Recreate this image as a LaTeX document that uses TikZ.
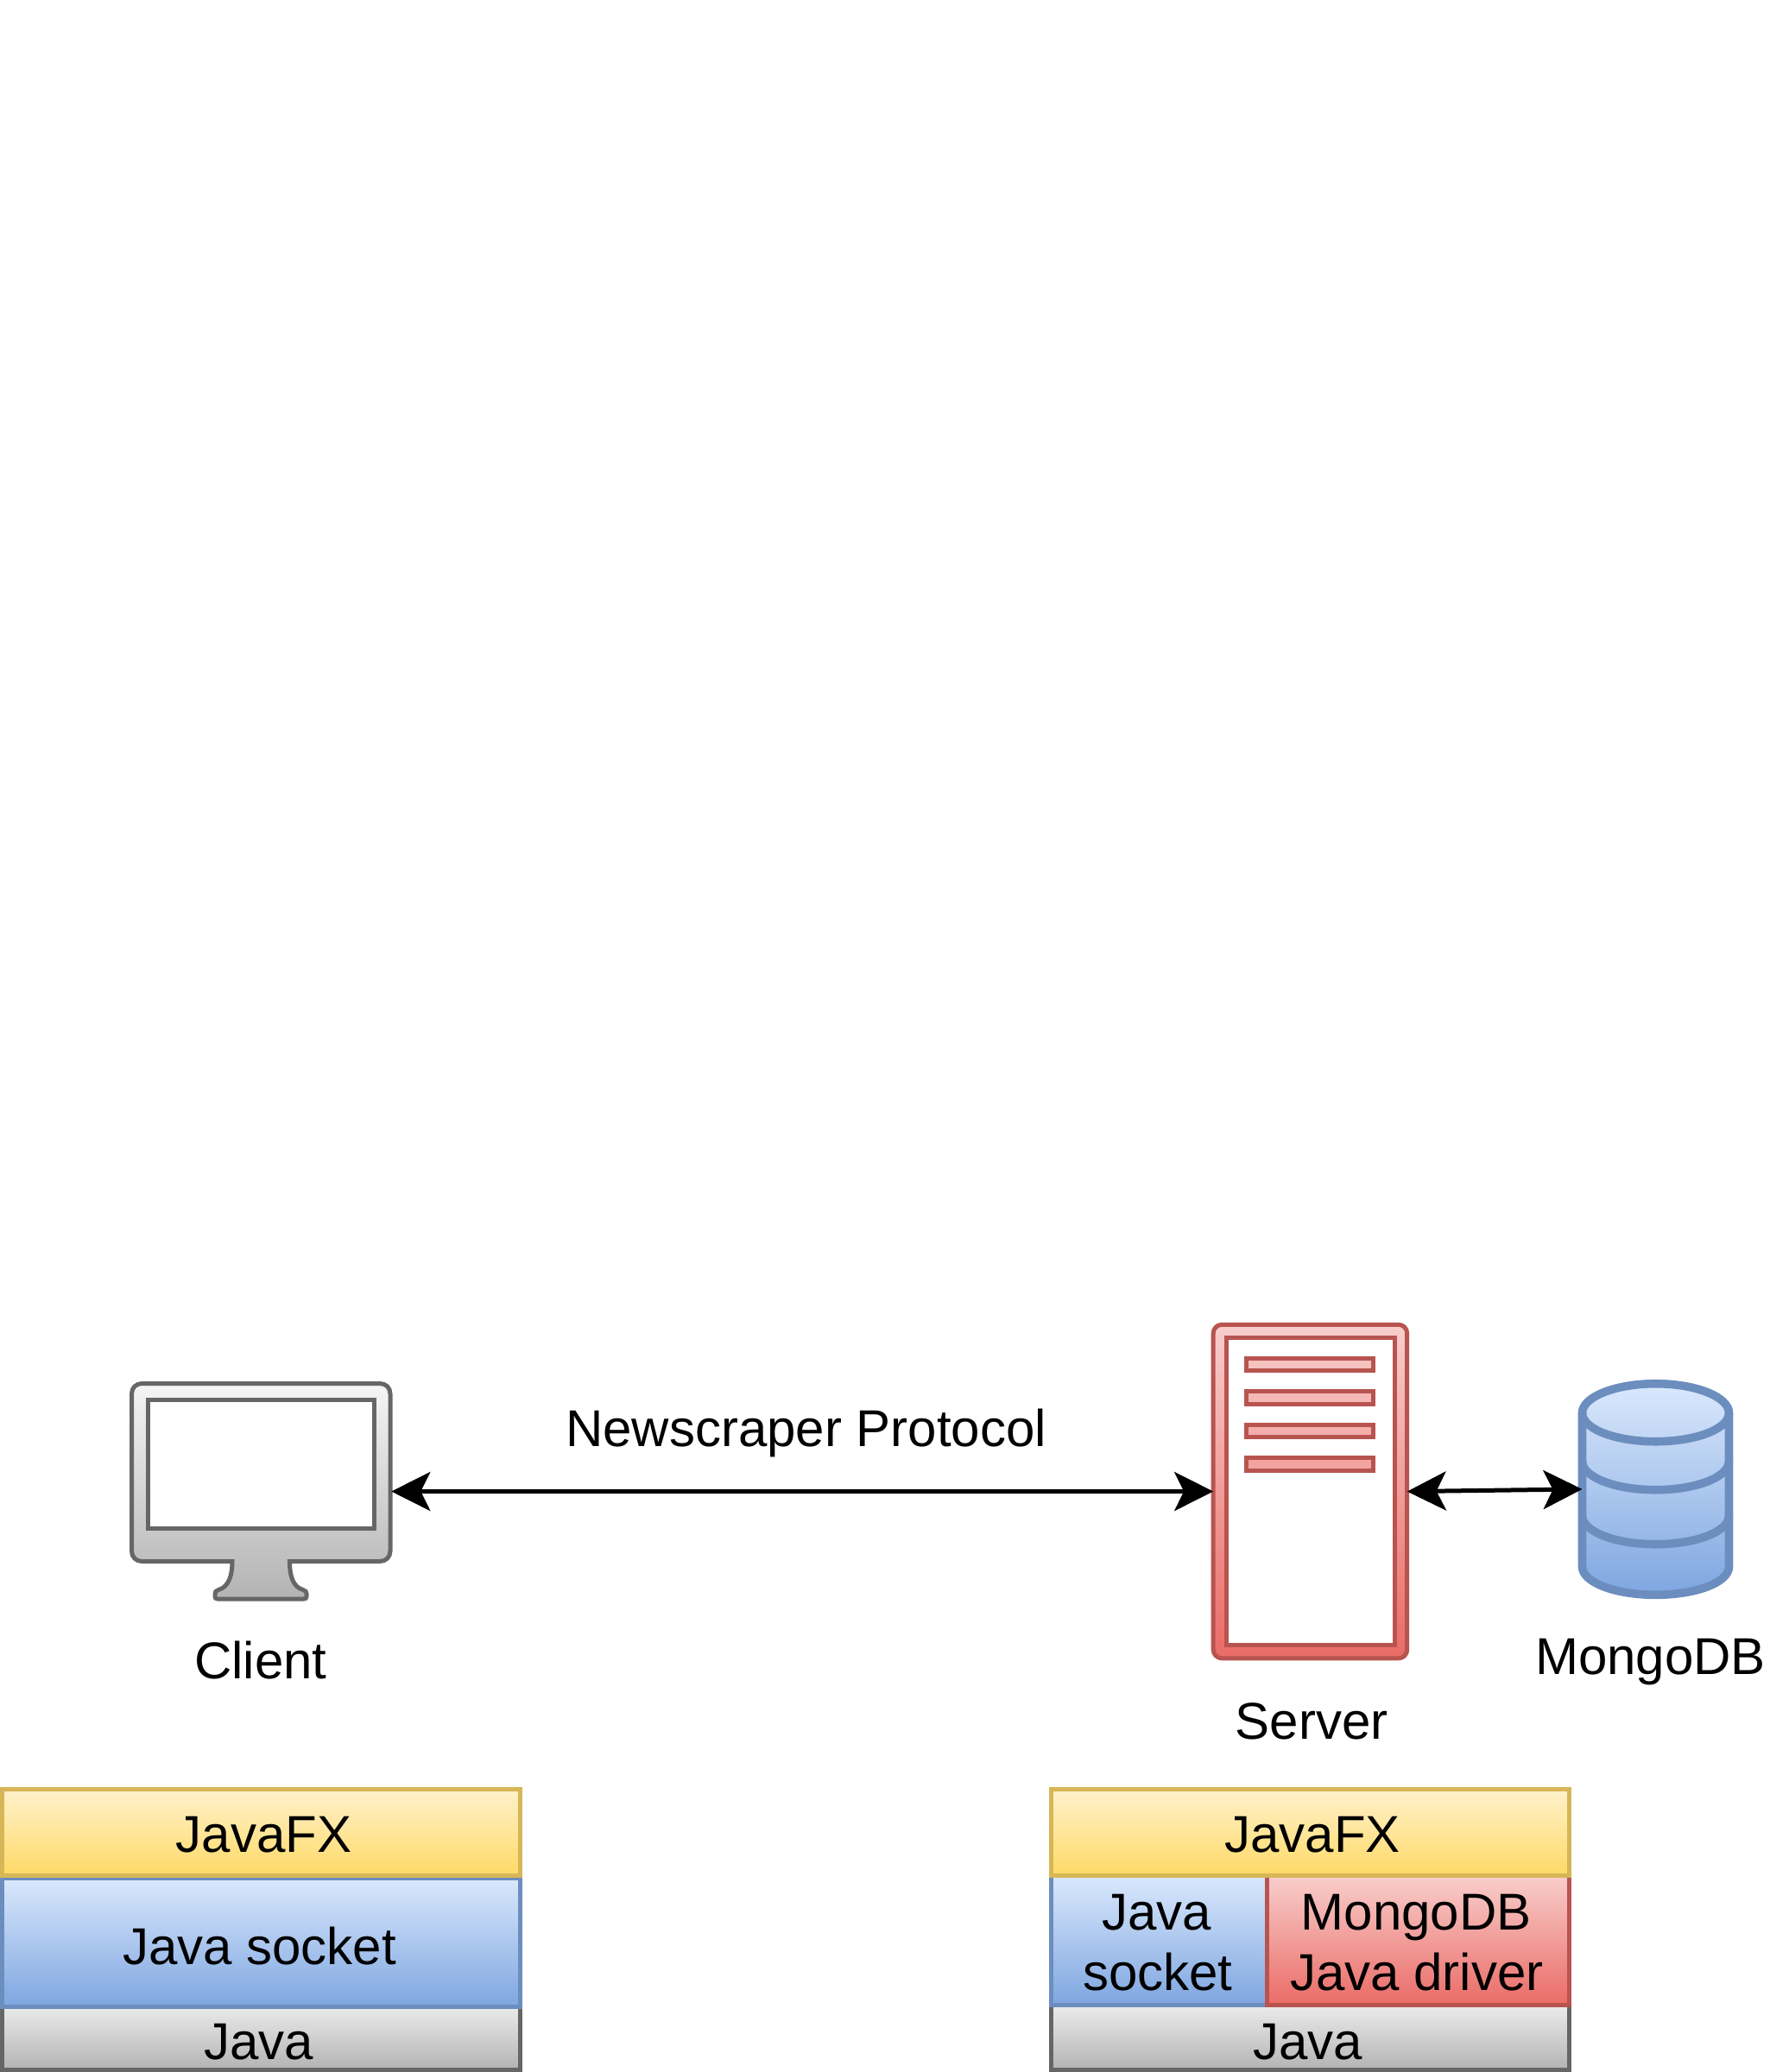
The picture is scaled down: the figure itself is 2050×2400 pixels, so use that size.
\documentclass[tikz,border=0pt]{standalone}
\usepackage{fontspec}
\setmainfont{Liberation Sans}
\usetikzlibrary{arrows.meta}
\definecolor{yelA}{HTML}{FFF2CC}\definecolor{yelB}{HTML}{FFD966}\definecolor{yelS}{HTML}{D6B656}
\definecolor{bluA}{HTML}{DAE8FC}\definecolor{bluB}{HTML}{7EA6E0}\definecolor{bluS}{HTML}{6C8EBF}
\definecolor{redA}{HTML}{F8CECC}\definecolor{redB}{HTML}{EA6B66}\definecolor{redS}{HTML}{B85450}
\definecolor{gryA}{HTML}{F5F5F5}\definecolor{gryB}{HTML}{B3B3B3}\definecolor{gryS}{HTML}{666666}
\tikzset{
  yellayer/.style={draw=yelS,top color=yelA,bottom color=yelB},
  blulayer/.style={draw=bluS,top color=bluA,bottom color=bluB},
  redlayer/.style={draw=redS,top color=redA,bottom color=redB},
  grylayer/.style={draw=gryS,top color=gryA,bottom color=gryB},
  stroke5/.style={line width=2.5pt},
  bbox/.style={inner sep=0pt,outer sep=0pt,draw=none},
  lbl/.style={inner sep=0pt,outer sep=0pt,anchor=base,font=\fontsize{30}{35}\selectfont,align=center},
  link/.style={line width=2.5pt,black,{Stealth[length=22.5pt,width=22.5pt,inset=5.5pt]}-{Stealth[length=22.5pt,width=22.5pt,inset=5.5pt]}},
}
% box given by its stroke centre lines, in reference pixels
\newcommand{\pxbox}[6]{%
  \pgfmathsetmacro{\pxw}{(#5-#3)*0.5}\pgfmathsetmacro{\pxh}{(#6-#4)*0.5}%
  \node[#1,stroke5,inner sep=0pt,outer sep=0pt,minimum width=\pxw pt,minimum height=\pxh pt] (#2) at ({(#3+#5)/2},{(#4+#6)/2}) {};}
\begin{document}
\begin{tikzpicture}[x=0.5pt,y=-0.5pt]
\useasboundingbox (0,0) rectangle (2050,2400);
\fill[white] (0,0) rectangle (2050,2400);

% client icon
\pxbox{bbox}{monitor}{150}{1601}{453.3}{1854}
\shade[draw=gryS,stroke5,top color=gryA,bottom color=gryB]
  (164.5,1602.5) -- (440,1602.5) .. controls (447,1602.5) and (452,1607.5) .. (452,1614.5)
  -- (452,1796.5) .. controls (452,1803.5) and (447,1808.5) .. (440,1808.5)
  -- (335.5,1808.5) .. controls (335.5,1825) and (339,1838) .. (351,1841.5)
  .. controls (354,1842.5) and (355,1844) .. (355,1846) -- (355,1849) .. controls (355,1851) and (354,1852) .. (352,1852)
  -- (252,1852) .. controls (250,1852) and (249,1851) .. (249,1849) -- (249,1846)
  .. controls (249,1844) and (250,1842.5) .. (253,1841.5)
  .. controls (265,1838) and (269,1825) .. (269,1808.5)
  -- (164.5,1808.5) .. controls (157.5,1808.5) and (152.5,1803.5) .. (152.5,1796.5)
  -- (152.5,1614.5) .. controls (152.5,1607.5) and (157.5,1602.5) .. (164.5,1602.5) -- cycle;
\draw[gryS,stroke5,fill=white] (171.5,1621.5) rectangle (433,1770);

% server icon
\pxbox{bbox}{server}{1405.2}{1534.3}{1629.7}{1920.8}
\shade[draw=redS,stroke5,rounded corners=5pt,top color=redA,bottom color=redB] (1405.2,1534.3) rectangle (1629.7,1920.8);
\draw[redS,stroke5,fill=white] (1420,1549.6) rectangle (1615,1905.8);
\draw[redS,stroke5,fill=redB!12!redA] (1443,1573) rectangle (1590.3,1587.3);
\draw[redS,stroke5,fill=redB!22!redA] (1443,1611.3) rectangle (1590.3,1626);
\draw[redS,stroke5,fill=redB!32!redA] (1443,1650) rectangle (1590.3,1664.7);
\draw[redS,stroke5,fill=redB!42!redA] (1443,1688.7) rectangle (1590.3,1703.3);

% database icon
\pxbox{bbox}{db}{1832.5}{1602.5}{2002.5}{1847.3}
\shade[draw=bluS,line width=4.8pt,top color=bluA,bottom color=bluB]
  (1832.5,1636.7) .. controls (1832.5,1618) and (1870.75,1602.7) .. (1917.5,1602.7)
  .. controls (1964.25,1602.7) and (2002.5,1618) .. (2002.5,1636.7)
  -- (2002.5,1814.5) .. controls (2002.5,1833) and (1964.25,1847.3) .. (1917.5,1847.3)
  .. controls (1870.75,1847.3) and (1832.5,1833) .. (1832.5,1814.5) -- cycle;
\draw[bluS,line width=4.8pt]
  (1832.5,1636.7) .. controls (1832.5,1655) and (1870.75,1669.7) .. (1917.5,1669.7) .. controls (1964.25,1669.7) and (2002.5,1655) .. (2002.5,1636.7)
  (1832.5,1692.5) .. controls (1832.5,1711) and (1870.75,1725.7) .. (1917.5,1725.7) .. controls (1964.25,1725.7) and (2002.5,1711) .. (2002.5,1692.5)
  (1832.5,1755.5) .. controls (1832.5,1774) and (1870.75,1788.7) .. (1917.5,1788.7) .. controls (1964.25,1788.7) and (2002.5,1774) .. (2002.5,1755.5);

% connectors
\draw[link] (monitor.east) -- (monitor.east -| server.west);
\draw[link] (server.east) -- (db.west);

% left stack
\pxbox{grylayer}{cjava}{2.5}{2310}{602.5}{2397.5}
\pxbox{blulayer}{csocket}{2.5}{2175}{602.5}{2324.8}
\pxbox{yellayer}{cfx}{2.5}{2072.5}{602.5}{2172.5}
% right stack
\pxbox{grylayer}{sjava}{1217.5}{2310}{1817.5}{2397.5}
\pxbox{blulayer}{ssocket}{1217.5}{2172.5}{1467.5}{2322.5}
\pxbox{redlayer}{sdriver}{1467.5}{2172.5}{1817.5}{2322.5}
\pxbox{yellayer}{sfx}{1217.5}{2072.5}{1817.5}{2172.5}

% labels
\node[lbl] (lproto) at (933.7,1675) {Newscraper Protocol};
\node[lbl] (lclient) at (302,1944) {Client};
\node[lbl] (lserver) at (1519,2014.3) {Server};
\node[lbl] (lmongo) at (1911.5,1939) {MongoDB};
\node[lbl] (tcfx) at (305.5,2145) {JavaFX};
\node[lbl] (tcsock) at (300.5,2275) {Java socket};
\node[lbl] (tcjava) at (299.7,2385) {Java};
\node[lbl] (tsfx) at (1520.3,2145) {JavaFX};
\node[lbl] (tssock1) at (1339.7,2235) {Java};
\node[lbl] (tssock2) at (1340.8,2305) {socket};
\node[lbl] (tsdrv1) at (1640.3,2235) {MongoDB};
\node[lbl] (tsdrv2) at (1640.8,2305) {Java driver};
\node[lbl] (tsjava) at (1514.5,2385) {Java};
\end{tikzpicture}
\end{document}
